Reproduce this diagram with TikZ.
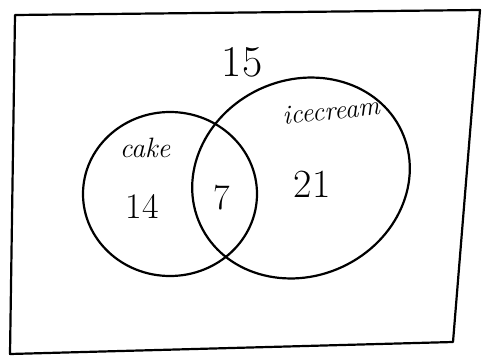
\documentclass[tikz,border=0pt]{standalone}
\usepackage{tikz}
\begin{document}
\begin{tikzpicture}[x=1pt,y=-1pt,
  ink/.style={line width=2.2pt,line join=round,line cap=round},
  lbl/.style={inner sep=0pt},
  num/.style={inner sep=0pt}]
\useasboundingbox (0,0) rectangle (482,356);
% frame
\draw[ink] (15,15) -- (480,10) -- (453,342) -- (10,354) -- cycle;
% cake circle
\draw[ink] (170,194) ellipse [x radius=87, y radius=82];
% ice cream ellipse
\draw[ink,rotate around={25:(301,178)}] (301,178) ellipse [x radius=111, y radius=98];
% labels
\node[num,font=\fontsize{44}{46}\selectfont] (u) at (242,62) {15};
\node[lbl,font=\fontsize{28}{30}\selectfont\itshape] (cake) at (145,148) {cake};
\node[lbl,font=\fontsize{27}{29}\selectfont\itshape,rotate=6] (ice) at (331,111) {icecream};
\node[num,font=\fontsize{36}{38}\selectfont] (a) at (142,206) {14};
\node[num,font=\fontsize{36}{38}\selectfont] (b) at (222,198) {7};
\node[num,font=\fontsize{40}{42}\selectfont] (c) at (312,184) {21};
\end{tikzpicture}
\end{document}
